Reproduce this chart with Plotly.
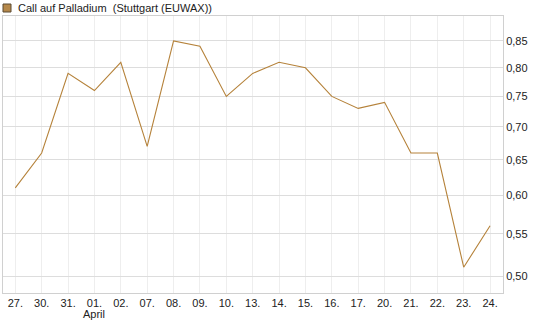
import plotly.graph_objects as go

dates = ["27.", "30.", "31.", "01.", "02.", "07.", "08.", "09.", "10.", "13.",
         "14.", "15.", "16.", "17.", "20.", "21.", "22.", "23.", "24."]
month_label = "April"
month_index = 3
values = [0.61, 0.66, 0.79, 0.76, 0.81, 0.67, 0.85, 0.84, 0.75, 0.79,
          0.81, 0.80, 0.75, 0.73, 0.74, 0.66, 0.66, 0.51, 0.56]
y_ticks = [0.50, 0.55, 0.60, 0.65, 0.70, 0.75, 0.80, 0.85]
y_tick_text = ["0,50", "0,55", "0,60", "0,65", "0,70", "0,75", "0,80", "0,85"]
series_name = "Call auf Palladium \u00a0(Stuttgart (EUWAX))"

LINE = "#b5823a"
FONT = dict(family="Liberation Sans, Arial, sans-serif", size=11, color="#222222")

fig = go.Figure()
fig.add_trace(go.Scatter(
    x=list(range(len(dates))), y=values, mode="lines",
    line=dict(color=LINE, width=1.1), showlegend=False, hoverinfo="skip"))

fig.update_layout(
    width=545, height=327,
    margin=dict(l=3, r=42, t=16, b=34),
    paper_bgcolor="white", plot_bgcolor="white",
    font=FONT,
    xaxis=dict(
        range=[-0.466, 18.49],
        tickmode="array", tickvals=list(range(len(dates))), ticktext=dates,
        showgrid=True, gridcolor="#eeeeee", gridwidth=1,
        showline=True, linecolor="#d0d0d0", linewidth=1, mirror=True,
        zeroline=False, ticks="", tickfont=FONT,
    ),
    yaxis=dict(
        type="log", side="right",
        range=[-0.3177, -0.0461],
        tickmode="array", tickvals=y_ticks, ticktext=y_tick_text,
        showgrid=True, gridcolor="#dddddd", gridwidth=1,
        showline=True, linecolor="#d0d0d0", linewidth=1, mirror=True,
        zeroline=False, ticks="", tickfont=FONT,
    ),
)

# legend square + text
fig.add_shape(type="rect", xref="paper", yref="paper",
              x0=0.0, x1=8/500, y0=1 + 4/277, y1=1 + 12/277,
              fillcolor="#b5884a", line=dict(color="#5a4a32", width=1))
fig.add_annotation(text=series_name, xref="paper", yref="paper",
                   x=13/500, y=1 + 8/277, xanchor="left", yanchor="middle",
                   showarrow=False, font=FONT)
# month label under its first day
fig.add_annotation(text=month_label, xref="x", yref="paper",
                   x=month_index, y=-21/277, xanchor="center", yanchor="middle",
                   showarrow=False, font=FONT)

fig.write_html("out.html")
